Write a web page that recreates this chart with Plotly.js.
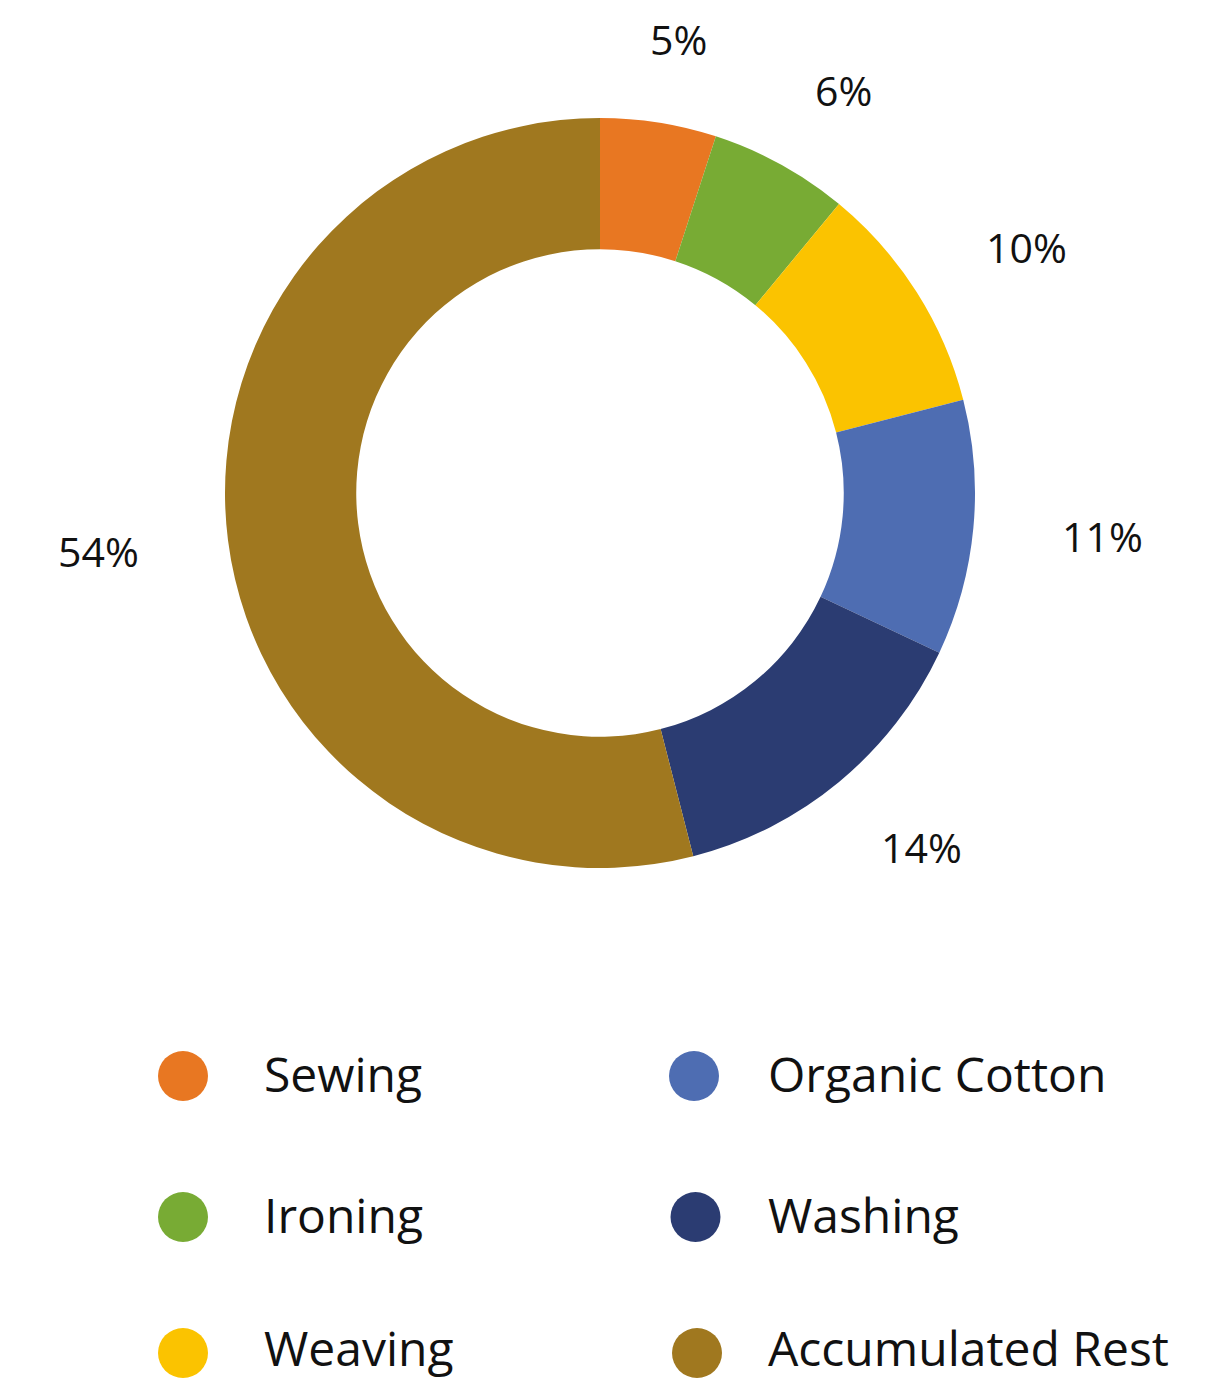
<!DOCTYPE html>
<html>
<head>
<meta charset="utf-8">
<script src="https://cdn.plot.ly/plotly-3.0.1.min.js"></script>
<style>html,body{margin:0;padding:0;background:#fff;}#chart{width:1210px;height:1381px;}</style>
</head>
<body>
<div id="chart"></div>
<script>
const categories = ["Sewing", "Ironing", "Weaving", "Organic Cotton", "Washing", "Accumulated Rest"];
const values = [5, 6, 10, 11, 14, 54];
const colors = ["#E87722", "#78AB34", "#FBC300", "#4E6DB2", "#2B3C72", "#A0781F"];

const W = 1210, H = 1381;
const FONT = "'Open Sans', 'Noto Sans', sans-serif";

// pie geometry (pixels)
const CX = 600, CY = 493, R = 375;

const pie = {
  type: "pie",
  labels: categories,
  values: values,
  sort: false,
  direction: "clockwise",
  rotation: 0,
  hole: 0.65,
  marker: { colors: colors, line: { width: 0 } },
  textinfo: "none",
  showlegend: false,
  hoverinfo: "label+percent",
  domain: { x: [(CX - R) / W, (CX + R) / W], y: [1 - (CY + R) / H, 1 - (CY - R) / H] }
};

const annotations = [];
const shapes = [];

// percentage labels placed outside the ring along each slice's mid-angle
const total = values.reduce((a, b) => a + b, 0);
const LRX = 505, LRY = 460;
let cum = 0;
values.forEach((v, i) => {
  const mid = (cum + v / 2) / total * 2 * Math.PI;
  cum += v;
  const px = CX + LRX * Math.sin(mid);
  const py = CY - LRY * Math.cos(mid);
  annotations.push({
    xref: "paper", yref: "paper",
    x: px / W, y: 1 - py / H,
    xanchor: "center", yanchor: "middle",
    text: Math.round(v / total * 100) + "%",
    showarrow: false,
    font: { family: FONT, size: 41, color: "#111" }
  });
});

// Custom legend: two columns, column-major order
const legendLeftX = [183, 694];
const legendTextX = [262, 766];
const rowY = [1076, 1217, 1353];
const textRowY = [1073, 1214, 1347];
categories.forEach((name, i) => {
  const col = Math.floor(i / 3), row = i % 3;
  const cx = legendLeftX[col] + (col === 1 ? row * 1.5 : 0);
  const cy = rowY[row];
  const r = 25;
  shapes.push({
    type: "circle", xref: "paper", yref: "paper",
    x0: (cx - r) / W, x1: (cx + r) / W,
    y0: 1 - (cy + r) / H, y1: 1 - (cy - r) / H,
    fillcolor: colors[i], line: { width: 0 }
  });
  annotations.push({
    xref: "paper", yref: "paper",
    x: legendTextX[col] / W, y: 1 - textRowY[row] / H,
    xanchor: "left", yanchor: "middle",
    text: name, showarrow: false,
    font: { family: FONT, size: 48, color: "#111" }
  });
});

const layout = {
  width: W, height: H,
  margin: { l: 0, r: 0, t: 0, b: 0 },
  paper_bgcolor: "#fff",
  plot_bgcolor: "#fff",
  showlegend: false,
  shapes: shapes,
  annotations: annotations
};

Plotly.newPlot("chart", [pie], layout, { displayModeBar: false, staticPlot: true });
</script>
</body>
</html>
